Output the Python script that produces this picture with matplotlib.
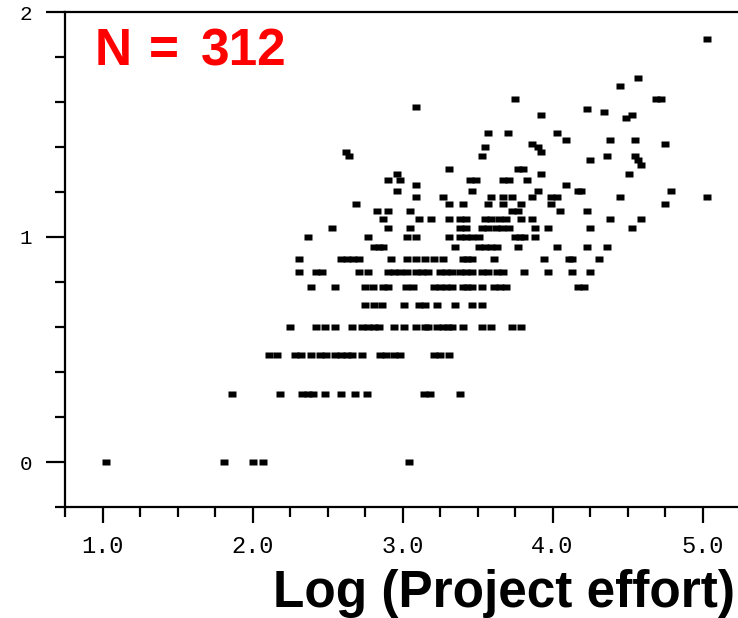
import matplotlib
matplotlib.use("Agg")
import matplotlib.pyplot as plt
from matplotlib.path import Path
from matplotlib.ticker import MultipleLocator, FixedLocator, FormatStrFormatter

# log(project effort) values, grouped by the log(duration) row they sit on
log_effort = [
    1.02, 1.81, 2.00, 2.07, 3.04,
    1.86, 2.18, 2.33, 2.37, 2.40, 2.48, 2.59, 2.68, 2.76, 3.14, 3.18, 3.38,
    2.11, 2.16, 2.28, 2.32, 2.39, 2.45, 2.49, 2.55, 2.59, 2.63, 2.66, 2.73,
    2.85, 2.89, 2.94, 2.98, 3.21, 3.25, 3.31,
    2.25, 2.42, 2.48, 2.55, 2.66, 2.73, 2.77, 2.81, 2.84, 2.94, 3.01, 3.09,
    3.15, 3.17, 3.23, 3.27, 3.30, 3.33, 3.40, 3.53, 3.59, 3.73, 3.79,
    2.75, 2.81, 2.86, 3.01, 3.11, 3.15, 3.23, 3.35, 3.46, 3.53,
    2.39, 2.55, 2.75, 2.80, 2.87, 2.90, 3.02, 3.07, 3.21, 3.25, 3.29, 3.33,
    3.40, 3.43, 3.46, 3.53, 3.61, 3.65, 3.69, 4.17, 4.21,
    2.31, 2.42, 2.46, 2.71, 2.77, 2.90, 2.94, 2.98, 3.03, 3.09, 3.13, 3.17,
    3.25, 3.29, 3.33, 3.38, 3.42, 3.46, 3.53, 3.57, 3.63, 3.67, 3.81, 3.97,
    4.13, 4.25,
    2.31, 2.59, 2.63, 2.67, 2.71, 2.92, 3.03, 3.09, 3.15, 3.21, 3.27, 3.40,
    3.43, 3.46, 3.61, 3.94, 4.11, 4.13, 4.31,
    2.81, 2.84, 2.87, 3.35, 3.51, 3.55, 3.59, 3.63, 3.77, 4.03, 4.23, 4.36,
    2.37, 2.77, 3.03, 3.09, 3.31, 3.38, 3.42, 3.46, 3.51, 3.75, 3.78, 3.81, 3.88,
    2.53, 2.90, 3.05, 3.38, 3.42, 3.53, 3.57, 3.62, 3.66, 3.71, 3.88, 3.97,
    4.25, 4.53,
    2.87, 3.11, 3.19, 3.31, 3.38, 3.42, 3.55, 3.59, 3.64, 3.69, 3.79, 3.86,
    4.38, 4.59,
    2.83, 2.90, 3.05, 3.73, 3.77, 4.05, 4.23,
    2.69, 3.31, 3.40, 3.57, 3.67, 3.79, 3.99, 4.75,
    3.09, 3.27, 3.59, 3.67, 3.73, 3.86, 3.99, 4.03, 4.45, 5.03,
    2.96, 3.46, 3.90, 4.17, 4.19, 4.79,
    3.09, 4.09,
    2.90, 2.98, 3.45, 3.49, 3.67, 3.71, 3.83,
    2.96, 3.92, 4.51,
    3.31, 3.77, 3.80,
    4.59,
    4.25, 4.57,
    2.64, 3.53, 4.36, 4.55,
    2.62, 3.92,
    3.55, 3.90,
    3.86, 4.75,
    4.09, 4.38, 4.55,
    3.57, 3.70, 4.03,
    4.49, 3.92, 4.53, 4.34, 4.23, 3.09,
    3.75, 4.69, 4.72,
    4.45, 4.57, 5.03,
]

log_duration = (
    [0.000] * 5 + [0.301] * 12 + [0.477] * 19 + [0.602] * 23 + [0.699] * 10
    + [0.778] * 21 + [0.845] * 26 + [0.903] * 19 + [0.954] * 12 + [1.000] * 13
    + [1.041] * 14 + [1.079] * 14 + [1.114] * 7 + [1.146] * 8 + [1.176] * 10
    + [1.204] * 6 + [1.230] * 2 + [1.255] * 7 + [1.279] * 3 + [1.301] * 3
    + [1.322] * 1 + [1.342] * 2 + [1.362] * 4 + [1.380] * 2 + [1.398] * 2
    + [1.415] * 2 + [1.431] * 3 + [1.462] * 3
    + [1.531, 1.544, 1.544, 1.556, 1.568, 1.580]
    + [1.613] * 3 + [1.672, 1.708, 1.881]
)

n_projects = 312
x_ticks = [1.0, 2.0, 3.0, 4.0, 5.0]
y_ticks = [0, 1, 2]

fig = plt.figure(figsize=(7.38, 6.18), dpi=100)
ax = fig.add_axes([65 / 738, 111 / 618, 675 / 738, 495 / 618])

# small flat rectangle marker, like the original plot
rect = Path([(-1, -0.7), (1, -0.7), (1, 0.7), (-1, 0.7), (-1, -0.7)],
            [Path.MOVETO, Path.LINETO, Path.LINETO, Path.LINETO, Path.CLOSEPOLY])
ax.plot(log_effort, log_duration, linestyle='none', marker=rect, markersize=5.2,
        markerfacecolor='black', markeredgecolor='none', clip_on=False)

ax.set_xlim(0.75, 5.25)
ax.set_ylim(-0.2, 2.0)

ax.xaxis.set_major_locator(FixedLocator(x_ticks))
ax.xaxis.set_minor_locator(MultipleLocator(0.25))
ax.xaxis.set_major_formatter(FormatStrFormatter('%.1f'))
ax.yaxis.set_major_locator(FixedLocator(y_ticks))
ax.yaxis.set_minor_locator(MultipleLocator(0.2))
ax.yaxis.set_major_formatter(FormatStrFormatter('%d'))

for s in ['left', 'top', 'bottom']:
    ax.spines[s].set_linewidth(1.6)
ax.spines['right'].set_visible(False)

ax.tick_params(axis='y', which='major', length=13.5, width=1.6, pad=10,
               labelsize=15, direction='out')
ax.tick_params(axis='y', which='minor', length=7.5, width=1.6, direction='out')
ax.tick_params(axis='x', which='major', length=11.5, width=1.6, pad=9,
               labelsize=17, direction='out')
ax.tick_params(axis='x', which='minor', length=7, width=1.6, direction='out')
for lab in ax.get_xticklabels() + ax.get_yticklabels():
    lab.set_fontfamily('Liberation Mono')

# "N = 312" is widely spaced in the original, so place its parts separately
red = dict(color='#ff0000', fontsize=37, fontweight='bold',
           family='Liberation Sans', ha='left', va='baseline')
base = 1 - 65 / 618
fig.text(95 / 738, base, 'N', **red)
fig.text(149 / 738, base, '=', **red)
fig.text(201 / 738, base, str(n_projects), **red)

fig.text(735 / 738, 1 - 607 / 618, 'Log (Project effort)', color='black',
         fontsize=37, fontweight='bold', family='Liberation Sans',
         ha='right', va='baseline')

fig.savefig('out.png', dpi=100)
